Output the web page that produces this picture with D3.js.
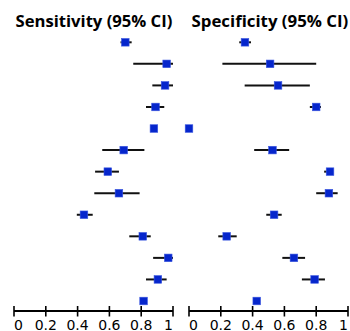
<!DOCTYPE html>
<html>
<head>
<meta charset="utf-8">
<script src="https://cdn.jsdelivr.net/npm/d3@7"></script>
<style>
  body { margin: 0; background: #fff; }
  svg { display: block; }
</style>
</head>
<body>
<div id="chart"></div>
<script>
// study rows, top to bottom
const studies = ['s1','s2','s3','s4','s5','s6','s7','s8','s9','s10','s11','s12','s13'];

const sensEst = [0.70, 0.96, 0.95, 0.89, 0.88, 0.69, 0.59, 0.66, 0.44, 0.81, 0.97, 0.905, 0.815];
const sensLo  = [0.67, 0.75, 0.87, 0.83, null, 0.555, 0.51, 0.505, 0.395, 0.725, 0.875, 0.83, null];
const sensHi  = [0.74, 1.00, 1.00, 0.945, null, 0.82, 0.66, 0.79, 0.495, 0.86, 1.00, 0.96, null];

const specEst = [0.352, 0.51, 0.56, 0.80, 0.0, 0.525, 0.887, 0.88, 0.535, 0.237, 0.66, 0.79, 0.426];
const specLo  = [0.316, 0.21, 0.35, 0.76, null, 0.41, 0.85, 0.80, 0.486, 0.184, 0.587, 0.71, null];
const specHi  = [0.39, 0.80, 0.76, 0.83, null, 0.63, 0.90, 0.935, 0.583, 0.30, 0.73, 0.855, null];

const tickVals = [0, 0.2, 0.4, 0.6, 0.8, 1];
const tickLabels = ['0', '0.2', '0.4', '0.6', '0.8', '1'];

const width = 350, height = 331;
const svg = d3.select('#chart').append('svg')
  .attr('width', width)
  .attr('height', height);

const y = d3.scalePoint()
  .domain(studies)
  .range([42.3, 301]);

const panels = [
  {title: 'Sensitivity (95% CI)', est: sensEst, lo: sensLo, hi: sensHi, x0: 14, x1: 173, tx: 15.5},
  {title: 'Specificity (95% CI)', est: specEst, lo: specLo, hi: specHi, x0: 189, x1: 348, tx: 191.5}
];

const axisY = 311;

panels.forEach(p => {
  const x = d3.scaleLinear().domain([0, 1]).range([p.x0, p.x1]);
  const g = svg.append('g');

  // title, sized to the width seen in the reference
  const t = g.append('text')
    .attr('x', p.tx)
    .attr('y', 27)
    .attr('font-family', '"Open Sans", "Noto Sans", sans-serif')
    .attr('font-weight', 'bold')
    .attr('font-size', 16)
    .attr('fill', '#000')
    .text(p.title);
  const len = t.node().getComputedTextLength();
  t.attr('font-size', 16 * 157 / len);

  // CI lines
  studies.forEach((s, i) => {
    if (p.lo[i] == null) return;
    g.append('line')
      .attr('x1', x(p.lo[i]))
      .attr('x2', x(p.hi[i]))
      .attr('y1', y(s))
      .attr('y2', y(s))
      .attr('stroke', '#111')
      .attr('stroke-width', 2);
  });

  // point estimates
  g.selectAll('rect.pt')
    .data(studies)
    .enter()
    .append('rect')
    .attr('class', 'pt')
    .attr('x', (s, i) => x(p.est[i]) - 3.8)
    .attr('y', s => y(s) - 3.8)
    .attr('width', 7.6)
    .attr('height', 7.6)
    .attr('fill', '#0626cc')
    .attr('stroke', '#3b57e0')
    .attr('stroke-width', 0.6);

  // axis
  g.append('line')
    .attr('x1', x(0))
    .attr('x2', x(1))
    .attr('y1', axisY)
    .attr('y2', axisY)
    .attr('stroke', '#000')
    .attr('stroke-width', 2);

  g.selectAll('line.tick')
    .data(tickVals)
    .enter()
    .append('line')
    .attr('class', 'tick')
    .attr('x1', d => x(d))
    .attr('x2', d => x(d))
    .attr('y1', axisY - 5)
    .attr('y2', axisY + 5.5)
    .attr('stroke', '#000')
    .attr('stroke-width', 1.6);

  g.selectAll('text.lbl')
    .data(tickVals)
    .enter()
    .append('text')
    .attr('class', 'lbl')
    .attr('x', d => x(d))
    .attr('y', 330)
    .attr('text-anchor', (d, i) => i === 0 ? 'start' : (i === tickVals.length - 1 ? 'end' : 'middle'))
    .attr('font-family', 'DejaVu Sans, Verdana, sans-serif')
    .attr('font-size', 14)
    .attr('fill', '#000')
    .text((d, i) => tickLabels[i]);
});
</script>
</body>
</html>
